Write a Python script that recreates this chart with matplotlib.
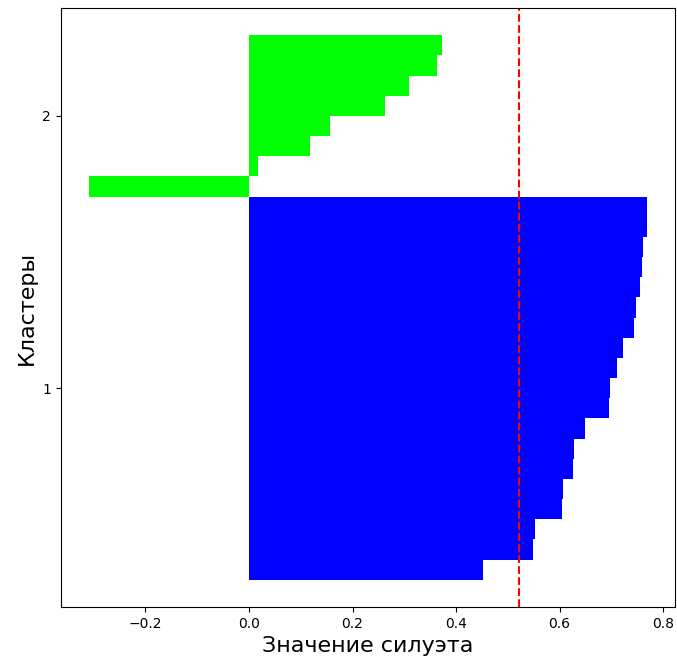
import numpy as np
import matplotlib
matplotlib.use("Agg")
import matplotlib.pyplot as plt

# значения силуэта по кластерам (отсортированы по возрастанию)
cluster_labels = ["1", "2"]
cluster_colors = ["#0000ff", "#00ff00"]
silhouette_c1 = [0.452, 0.549, 0.553, 0.604, 0.607, 0.625, 0.628, 0.649,
                 0.695, 0.697, 0.710, 0.723, 0.744, 0.747, 0.755, 0.759,
                 0.761, 0.768, 0.769]
silhouette_c2 = [-0.310, 0.017, 0.117, 0.157, 0.263, 0.309, 0.364, 0.373]

fig = plt.figure(figsize=(6.77, 6.68), dpi=100)
ax = fig.add_axes([0.0895, 0.0913, 0.9075, 0.8967])

y_lower = 0
yticks = []
for vals, color in zip([silhouette_c1, silhouette_c2], cluster_colors):
    vals = np.sort(vals)
    y_upper = y_lower + len(vals)
    ax.barh(range(y_lower, y_upper), vals, height=1.0, align="edge",
            edgecolor="none", color=color)
    yticks.append((y_lower + y_upper) / 2.)
    y_lower = y_upper

all_vals = np.concatenate([silhouette_c1, silhouette_c2])
silhouette_avg = np.mean(all_vals)
ax.axvline(silhouette_avg, color="red", linestyle="--")

ax.set_yticks(yticks)
ax.set_yticklabels(cluster_labels)
ax.set_ylabel("Кластеры", fontsize=16)
ax.set_xlabel("Значение силуэта", fontsize=16)

fig.savefig("out.png", dpi=100)
